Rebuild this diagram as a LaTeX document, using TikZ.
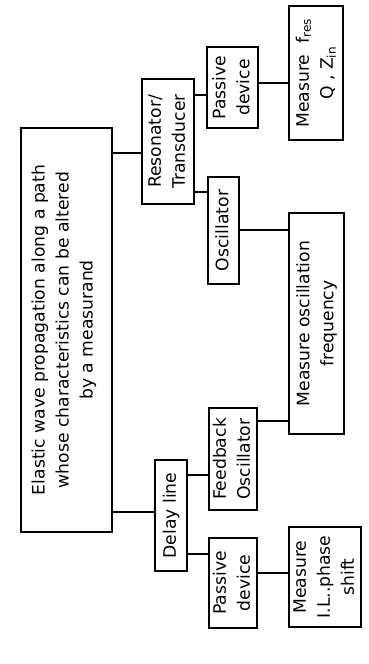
\documentclass[tikz,border=0pt]{standalone}
\usepackage{fontspec}
\usepackage{graphicx}
\usepackage{tikz}
\setmainfont{DejaVu Sans}
\usetikzlibrary{positioning}

% upright text turned to read from bottom to top
\newcommand{\vtext}[1]{\rotatebox{90}{\begin{tabular}{@{}c@{}}#1\end{tabular}}}

\begin{document}
\begin{tikzpicture}[
    x=0.5pt, y=-0.5pt,
    box/.style={rectangle, draw, line width=0.8pt, inner sep=0pt, align=center, font=\fontsize{8.6}{12}\selectfont},
    link/.style={line width=0.8pt}
]
    \fill[white] (0,0) rectangle (369,664);
    \useasboundingbox (0,0) rectangle (369,664);

    \node[box, minimum width=45.5pt, minimum height=202pt] (wave) at (66.5,330) {
        \vtext{Elastic wave propagation along a path\\
        whose characteristics can be altered\\
        by a measurand}
    };

    % resonator branch
    \node[box, minimum width=26pt, minimum height=62.5pt] (reson) at (168,141.5) {\vtext{Resonator/\\Transducer}};
    \node[box, minimum width=25.5pt, minimum height=40.5pt] (passtop) at (232.5,87.5) {\vtext{Passive\\device}};
    \node[box, minimum width=27pt, minimum height=67pt] (measres) at (316,73) {\vtext{Measure\ \ f\textsubscript{res}\\Q , Z\textsubscript{in}}};
    \node[box, minimum width=15.5pt, minimum height=53.5pt] (osc) at (223.5,230.5) {\vtext{Oscillator}};
    \node[box, minimum width=27.5pt, minimum height=110.5pt] (measosc) at (316.5,323.5) {\vtext{Measure oscillation\\frequency}};

    % delay line branch
    \node[box, minimum width=16pt, minimum height=55.5pt] (delay) at (171,515.5) {\vtext{Delay line}};
    \node[box, minimum width=24pt, minimum height=51pt] (fbosc) at (233,459) {\vtext{Feedback\\Oscillator}};
    \node[box, minimum width=24pt, minimum height=45pt] (passbot) at (233,583) {\vtext{Passive\\device}};
    \node[box, minimum width=34pt, minimum height=50pt] (measil) at (325,577) {\vtext{Measure\\I.L..phase\\shift}};

    \foreach \a/\b/\y in {wave/reson/153, reson/passtop/95, passtop/measres/83,
                          reson/osc/192, osc/measosc/230, wave/delay/512,
                          delay/fbosc/475, fbosc/measosc/421, delay/passbot/554,
                          passbot/measil/573}
        \draw[link] (\a.east |- 0,\y) -- (\b.west |- 0,\y);
\end{tikzpicture}
\end{document}
